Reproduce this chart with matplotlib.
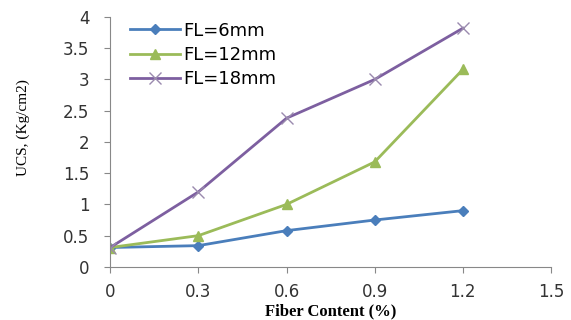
import matplotlib
matplotlib.use("Agg")
import matplotlib.pyplot as plt

fiber_content = [0, 0.3, 0.6, 0.9, 1.2]
ucs_fl6 = [0.31, 0.34, 0.58, 0.75, 0.90]
ucs_fl12 = [0.31, 0.50, 1.00, 1.68, 3.16]
ucs_fl18 = [0.31, 1.20, 2.38, 3.00, 3.82]
series_labels = ["FL=6mm", "FL=12mm", "FL=18mm"]
x_ticks = [0, 0.3, 0.6, 0.9, 1.2, 1.5]
y_ticks = [0, 0.5, 1, 1.5, 2, 2.5, 3, 3.5, 4]

fig = plt.figure(figsize=(5.71, 3.2), dpi=100)
ax = fig.add_axes([0.193, 0.166, 0.772, 0.781])

ax.plot(fiber_content, ucs_fl6, color="#4A7EBB", marker="D", markersize=5,
        linewidth=2, label=series_labels[0])
ax.plot(fiber_content, ucs_fl12, color="#9BBB59", marker="^", markersize=7,
        linewidth=2, label=series_labels[1])
ax.plot(fiber_content, ucs_fl18, color="#7D5FA0", marker="x", markersize=9,
        markeredgecolor="#9A8AAE", markeredgewidth=1, linewidth=2,
        label=series_labels[2])

ax.set_xlim(0, 1.5)
ax.set_ylim(0, 4)
ax.set_xticks(x_ticks)
ax.set_xticklabels([f"{v:g}" for v in x_ticks])
ax.set_yticks(y_ticks)
ax.set_yticklabels([f"{v:g}" for v in y_ticks])

for side in ("top", "right"):
    ax.spines[side].set_visible(False)
for side in ("left", "bottom"):
    ax.spines[side].set_color("#888888")
    ax.spines[side].set_linewidth(0.8)
ax.tick_params(axis="both", colors="#888888", labelcolor="#333333",
               labelsize=12, length=4, width=0.8)
ax.tick_params(axis="x", pad=7.5)
ax.tick_params(axis="y", pad=11)

ax.set_xlabel("Fiber Content (%)", family="Liberation Serif",
              fontweight="bold", fontsize=12, va="center")
ax.xaxis.set_label_coords(0.5, -0.178)
ax.set_ylabel("UCS, (Kg/cm2)", family="Liberation Serif", fontsize=11,
              va="center")
ax.yaxis.set_label_coords(-0.197, 0.556)

ax.legend(loc="upper left", bbox_to_anchor=(0.02, 1.025), frameon=False,
          fontsize=13, handlelength=2.8, labelspacing=0.35, handletextpad=0.15,
          borderaxespad=0.2)

fig.savefig("out.png", dpi=100)
